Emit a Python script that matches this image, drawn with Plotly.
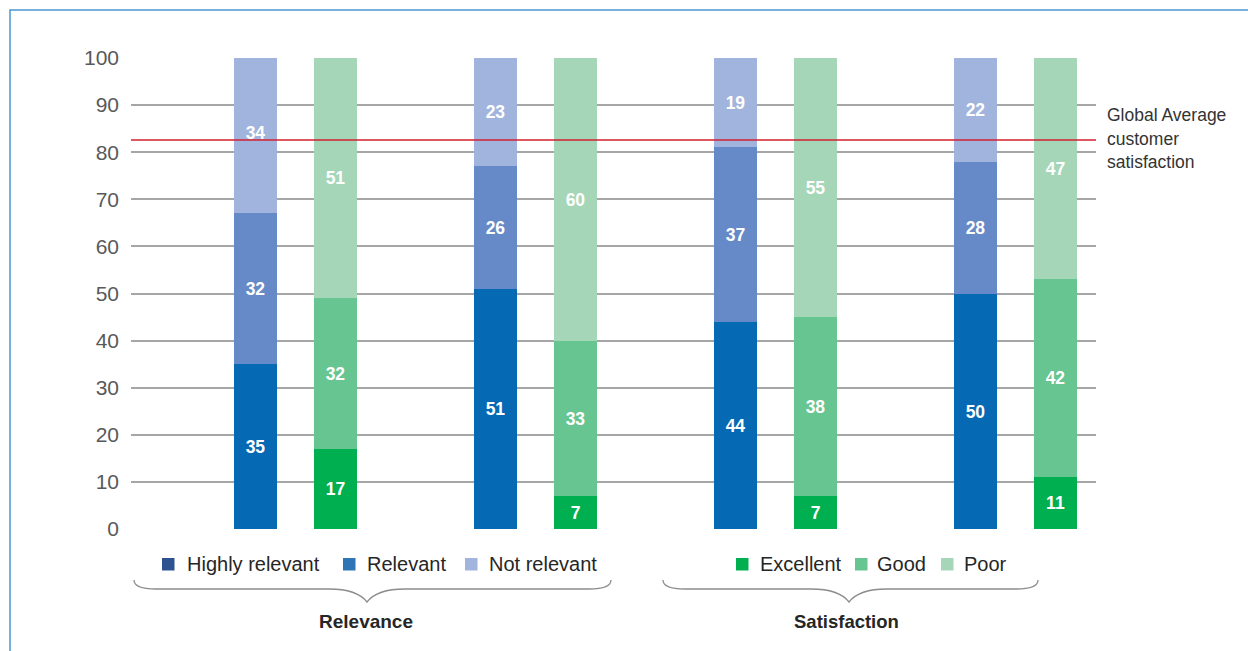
import plotly.graph_objects as go

# ---- data ----
pair_index = [0, 1, 2, 3]
highly_relevant = [35, 51, 44, 50]
relevant = [32, 26, 37, 28]
not_relevant = [34, 23, 19, 22]
excellent = [17, 7, 7, 11]
good = [32, 33, 38, 42]
poor = [51, 60, 55, 47]
global_avg = 82.6
y_ticks = [0, 10, 20, 30, 40, 50, 60, 70, 80, 90, 100]

rel_names = ["Highly relevant", "Relevant", "Not relevant"]
sat_names = ["Excellent", "Good", "Poor"]
avg_label_lines = ["Global Average", "customer", "satisfaction"]

# ---- style ----
W, H = 1248, 651
L, R, T, B = 131, 1096, 58, 529
FONT = "Liberation Sans, Arial, sans-serif"
bar_cols_rel = ["#0669b4", "#6689c8", "#a1b4dd"]
bar_cols_sat = ["#00b050", "#66c590", "#a5d6b7"]
leg_cols_rel = ["#2e5290", "#2f75b5", "#a1b4dd"]
leg_cols_sat = ["#00b050", "#66c590", "#a5d6b7"]

x_blue = [3 * i for i in pair_index]
x_green = [3 * i + 1 for i in pair_index]

fig = go.Figure()
def add_bars(xs, names, series, cols):
    for name, vals, col in zip(names, series, cols):
        fig.add_trace(go.Bar(x=xs, y=vals, name=name, marker=dict(color=col, line=dict(width=0)),
                             width=0.54, text=[str(v) for v in vals], textposition="inside",
                             insidetextanchor="middle", textangle=0, constraintext="none",
                             textfont=dict(color="white", size=17.5, family=FONT, weight="bold"),
                             showlegend=False, hoverinfo="skip"))

add_bars(x_blue, rel_names, [highly_relevant, relevant, not_relevant], bar_cols_rel)
add_bars(x_green, sat_names, [excellent, good, poor], bar_cols_sat)

def px(x):
    return (x - L) / (R - L)

def py(y):
    return (B - y) / (B - T)

shapes = []
annotations = []
# frame
shapes.append(dict(type="rect", xref="paper", yref="paper", x0=px(10), x1=px(1260), y0=py(10), y1=py(670),
                   line=dict(color="#4b96d1", width=1.5), layer="above"))
# red global average line
shapes.append(dict(type="line", xref="paper", yref="y", x0=0, x1=1, y0=global_avg, y1=global_avg,
                   line=dict(color="#d2202f", width=1.5), layer="above"))
for line_txt, ly in zip(avg_label_lines, [115, 138.5, 162]):
    annotations.append(dict(xref="paper", yref="paper", x=px(1105), y=py(ly), xanchor="left", yanchor="middle",
                            align="left", showarrow=False, text=line_txt,
                            font=dict(family=FONT, size=17.5, color="#333333")))

# braces
def brace(l, r, tip):
    top, mid, bot = 580, 589, 602
    pts = [("M", l, top), ("Q", l, mid, l + 22, mid), ("L", tip - 38, mid),
           ("Q", tip - 10, mid, tip, bot), ("Q", tip + 10, mid, tip + 38, mid),
           ("L", r - 22, mid), ("Q", r, mid, r, top)]
    s = ""
    for p in pts:
        cmd = p[0]
        coords = p[1:]
        s += cmd + " " + " ".join(
            f"{px(coords[i]):.5f},{py(coords[i + 1]):.5f}" for i in range(0, len(coords), 2)) + " "
    return dict(type="path", xref="paper", yref="paper", path=s.strip(),
                line=dict(color="#8c8c8c", width=1.3))

shapes.append(brace(134, 611, 367))
shapes.append(brace(663, 1038, 849))

annotations.append(dict(xref="paper", yref="paper", x=px(366), y=py(621), xanchor="center", yanchor="middle",
                        showarrow=False, text="<b>Relevance</b>",
                        font=dict(family=FONT, size=19, color="#262626")))
annotations.append(dict(xref="paper", yref="paper", x=px(846), y=py(621), xanchor="center", yanchor="middle",
                        showarrow=False, text="<b>Satisfaction</b>",
                        font=dict(family=FONT, size=18.5, color="#262626")))

# custom legend
leg_sq = [162, 343, 465, 736, 855, 941]
leg_tx = [185, 365, 487, 758, 875, 962]
leg_names = rel_names + sat_names
leg_cols = leg_cols_rel + leg_cols_sat
for sq, tx, nm, col in zip(leg_sq, leg_tx, leg_names, leg_cols):
    shapes.append(dict(type="rect", xref="paper", yref="paper", x0=px(sq), x1=px(sq + 12.5),
                       y0=py(558), y1=py(570.5), fillcolor=col, line=dict(width=0)))
    annotations.append(dict(xref="paper", yref="paper", x=px(tx), y=py(564), xanchor="left", yanchor="middle",
                            showarrow=False, text=nm, font=dict(family=FONT, size=20, color="#262626")))

fig.update_layout(
    width=W, height=H,
    margin=dict(l=L, r=W - R, t=T, b=H - B, pad=0),
    barmode="stack",
    bargap=0,
    plot_bgcolor="white", paper_bgcolor="white",
    xaxis=dict(range=[(L - 255.5) / 80, (R - 255.5) / 80], showgrid=False, zeroline=False,
               showticklabels=False, ticks="", showline=False, fixedrange=True),
    yaxis=dict(range=[0, 100], tickvals=y_ticks, showgrid=True, gridcolor="#a6a6a6", gridwidth=1.5,
               zeroline=False, showline=False, ticks="", ticklabelstandoff=11,
               tickfont=dict(family=FONT, size=21, color="#595959"), fixedrange=True),
    shapes=shapes, annotations=annotations,
    showlegend=False,
)

fig.write_html("out.html")
